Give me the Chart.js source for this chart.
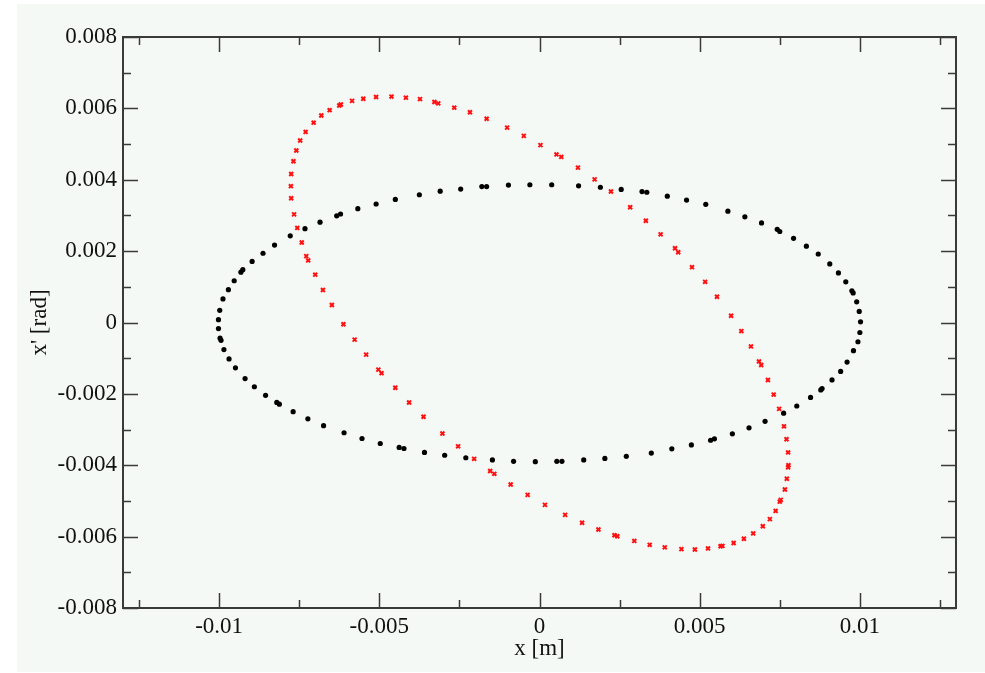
<!DOCTYPE html>
<html>
<head>
<meta charset="utf-8">
<script src="https://cdn.jsdelivr.net/npm/chart.js@4.4.1/dist/chart.umd.min.js"></script>
<style>
  html, body { margin: 0; padding: 0; background: #ffffff; }
  #wrap { position: absolute; left: 0; top: 0; width: 985px; height: 673px; }
</style>
</head>
<body>
<div id="wrap"><canvas id="phaseChart" width="985" height="673"></canvas></div>
<script>
// black ellipse (x [m], x' [rad])
const blackX = [-0.01002, -0.01002, -0.00998, -0.00988, -0.00971, -0.00953, -0.00932, -0.00926, -0.00897, -0.00863,
  -0.00827, -0.00778, -0.00732, -0.00685, -0.00633, -0.00621, -0.00567, -0.00510, -0.00450, -0.00375,
  -0.00310, -0.00246, -0.00180, -0.00165, -0.00097, -0.00030, 0.00038, 0.00122, 0.00190, 0.00255,
  0.00320, 0.00335, 0.00399, 0.00459, 0.00519, 0.00588, 0.00641, 0.00693, 0.00742, 0.00750,
  0.00793, 0.00833, 0.00870, 0.00906, 0.00933, 0.00956, 0.00975, 0.00979, 0.00990, 0.00998,
  0.01002, 0.01000, 0.00994, 0.00980, 0.00960, 0.00940, 0.00913, 0.00882, 0.00878, 0.00846,
  0.00803, 0.00762, 0.00704, 0.00654, 0.00602, 0.00546, 0.00534, 0.00474, 0.00413, 0.00349,
  0.00271, 0.00204, 0.00138, 0.00070, 0.00054, -0.00013, -0.00081, -0.00147, -0.00230, -0.00296,
  -0.00359, -0.00423, -0.00438, -0.00497, -0.00554, -0.00610, -0.00674, -0.00723, -0.00769, -0.00812,
  -0.00820, -0.00855, -0.00890, -0.00919, -0.00949, -0.00969, -0.00985, -0.00994, -0.00997];
const blackY = [-0.00017, 0.00008, 0.00034, 0.00066, 0.00092, 0.00117, 0.00141, 0.00148, 0.00171, 0.00194,
  0.00217, 0.00243, 0.00263, 0.00281, 0.00299, 0.00304, 0.00319, 0.00332, 0.00345, 0.00358,
  0.00368, 0.00374, 0.00381, 0.00381, 0.00385, 0.00386, 0.00386, 0.00383, 0.00379, 0.00373,
  0.00367, 0.00365, 0.00354, 0.00343, 0.00331, 0.00312, 0.00296, 0.00279, 0.00261, 0.00255,
  0.00236, 0.00214, 0.00192, 0.00164, 0.00139, 0.00114, 0.00089, 0.00083, 0.00058, 0.00031,
  0.00002, -0.00028, -0.00054, -0.00079, -0.00111, -0.00137, -0.00161, -0.00185, -0.00189, -0.00210,
  -0.00234, -0.00254, -0.00277, -0.00295, -0.00312, -0.00326, -0.00330, -0.00343, -0.00354, -0.00366,
  -0.00375, -0.00381, -0.00385, -0.00389, -0.00389, -0.00390, -0.00389, -0.00385, -0.00379, -0.00372,
  -0.00364, -0.00353, -0.00350, -0.00339, -0.00325, -0.00309, -0.00289, -0.00270, -0.00250, -0.00229,
  -0.00224, -0.00204, -0.00180, -0.00157, -0.00127, -0.00102, -0.00076, -0.00050, -0.00044];

// red tilted ellipse
const redX = [-0.00373, -0.00417, -0.00462, -0.00510, -0.00550, -0.00585, -0.00620, -0.00625, -0.00655, -0.00681,
  -0.00705, -0.00730, -0.00747, -0.00759, -0.00768, -0.00775, -0.00776, -0.00775, -0.00766, -0.00756,
  -0.00742, -0.00728, -0.00722, -0.00700, -0.00676, -0.00648, -0.00612, -0.00577, -0.00541, -0.00503,
  -0.00493, -0.00450, -0.00407, -0.00362, -0.00303, -0.00254, -0.00204, -0.00154, -0.00141, -0.00090,
  -0.00037, 0.00017, 0.00080, 0.00133, 0.00184, 0.00234, 0.00243, 0.00296, 0.00344, 0.00391,
  0.00443, 0.00485, 0.00526, 0.00565, 0.00571, 0.00606, 0.00638, 0.00667, 0.00697, 0.00719,
  0.00737, 0.00750, 0.00753, 0.00766, 0.00772, 0.00776, 0.00777, 0.00776, 0.00771, 0.00763,
  0.00748, 0.00731, 0.00713, 0.00692, 0.00685, 0.00660, 0.00630, 0.00598, 0.00554, 0.00517,
  0.00476, 0.00433, 0.00423, 0.00378, 0.00332, 0.00283, 0.00223, 0.00172, 0.00120, 0.00068,
  0.00053, 0.00003, -0.00049, -0.00101, -0.00165, -0.00217, -0.00266, -0.00316, -0.00328];
const redY = [0.00626, 0.00630, 0.00633, 0.00632, 0.00627, 0.00621, 0.00611, 0.00608, 0.00595, 0.00580,
  0.00560, 0.00534, 0.00510, 0.00482, 0.00452, 0.00416, 0.00382, 0.00348, 0.00303, 0.00265,
  0.00224, 0.00186, 0.00174, 0.00134, 0.00091, 0.00049, -0.00005, -0.00048, -0.00090, -0.00132,
  -0.00142, -0.00183, -0.00224, -0.00264, -0.00311, -0.00347, -0.00382, -0.00416, -0.00424, -0.00454,
  -0.00483, -0.00511, -0.00539, -0.00561, -0.00580, -0.00596, -0.00599, -0.00612, -0.00623, -0.00630,
  -0.00635, -0.00636, -0.00633, -0.00627, -0.00626, -0.00618, -0.00606, -0.00591, -0.00571, -0.00551,
  -0.00528, -0.00502, -0.00497, -0.00468, -0.00438, -0.00406, -0.00400, -0.00364, -0.00327, -0.00291,
  -0.00242, -0.00202, -0.00161, -0.00119, -0.00109, -0.00067, -0.00024, 0.00019, 0.00072, 0.00114,
  0.00155, 0.00197, 0.00208, 0.00247, 0.00285, 0.00323, 0.00367, 0.00401, 0.00434, 0.00464,
  0.00471, 0.00497, 0.00523, 0.00546, 0.00571, 0.00589, 0.00602, 0.00614, 0.00618];

// axis ticks
const xTickValues = [-0.01, -0.005, 0, 0.005, 0.01];
const xTickLabels = ['-0.01', '-0.005', '0', '0.005', '0.01'];
const xMinorTicks = [-0.0125, -0.0075, -0.0025, 0.0025, 0.0075, 0.0125];
const yTickValues = [-0.008, -0.006, -0.004, -0.002, 0, 0.002, 0.004, 0.006, 0.008];
const yTickLabels = ['-0.008', '-0.006', '-0.004', '-0.002', '0', '0.002', '0.004', '0.006', '0.008'];
const yMinorTicks = [-0.007, -0.005, -0.003, -0.001, 0.001, 0.003, 0.005, 0.007];

const toPoints = (xs, ys) => xs.map((x, i) => ({ x: x, y: ys[i] }));
const serif = "'Liberation Serif', 'Times New Roman', serif";

// background panel + frame with inward ticks on all four sides
const framePlugin = {
  id: 'frame',
  beforeDraw(chart) {
    const c = chart.ctx;
    c.save();
    c.fillStyle = '#ffffff';
    c.fillRect(0, 0, chart.width, chart.height);
    c.fillStyle = '#f5f9f6';
    c.fillRect(17, 4, chart.width - 17, chart.height - 5);
    c.restore();
  },
  beforeDatasetsDraw(chart) {
    const c = chart.ctx;
    const a = chart.chartArea;
    const xs = chart.scales.x, ys = chart.scales.y;
    c.save();
    c.strokeStyle = '#3a3a3a';
    c.lineWidth = 2;
    c.strokeRect(a.left, a.top, a.right - a.left, a.bottom - a.top);
    c.lineWidth = 1.5;
    const tick = (x1, y1, x2, y2) => { c.beginPath(); c.moveTo(x1, y1); c.lineTo(x2, y2); c.stroke(); };
    xTickValues.forEach(v => {
      const px = Math.round(xs.getPixelForValue(v)) + 0.5;
      tick(px, a.bottom, px, a.bottom - 15);
      tick(px, a.top, px, a.top + 15);
    });
    xMinorTicks.forEach(v => {
      const px = Math.round(xs.getPixelForValue(v)) + 0.5;
      tick(px, a.bottom, px, a.bottom - 8);
      tick(px, a.top, px, a.top + 8);
    });
    yTickValues.forEach(v => {
      const py = Math.round(ys.getPixelForValue(v)) + 0.5;
      tick(a.left, py, a.left + 15, py);
      tick(a.right, py, a.right - 15, py);
    });
    yMinorTicks.forEach(v => {
      const py = Math.round(ys.getPixelForValue(v)) + 0.5;
      tick(a.left, py, a.left + 8, py);
      tick(a.right, py, a.right - 8, py);
    });
    c.restore();
  }
};

new Chart(document.getElementById('phaseChart').getContext('2d'), {
  type: 'scatter',
  data: {
    datasets: [{
      label: 'x0',
      data: toPoints(blackX, blackY),
      pointStyle: 'circle',
      pointRadius: 2.6,
      backgroundColor: '#000000',
      borderColor: '#000000',
      borderWidth: 0
    }, {
      label: 'x1',
      data: toPoints(redX, redY),
      pointStyle: 'crossRot',
      pointRadius: 2.8,
      borderColor: '#ff1010',
      backgroundColor: '#ff1010',
      borderWidth: 2
    }]
  },
  options: {
    responsive: false,
    animation: false,
    layout: { padding: { left: 0, top: 37, right: 29, bottom: 0 } },
    plugins: { legend: { display: false }, tooltip: { enabled: false } },
    scales: {
      x: {
        type: 'linear',
        min: -0.013,
        max: 0.013,
        grid: { display: false, drawTicks: false },
        border: { display: false },
        afterBuildTicks: s => { s.ticks = xTickValues.map(v => ({ value: v })); },
        afterFit: s => { s.height = 65; },
        ticks: {
          padding: 5,
          color: '#111111',
          font: { family: serif, size: 23 },
          callback: (v) => xTickLabels[xTickValues.indexOf(v)]
        },
        title: {
          display: true,
          text: 'x [m]',
          color: '#111111',
          font: { family: serif, size: 23 },
          padding: { top: 0, bottom: 10 }
        }
      },
      y: {
        type: 'linear',
        min: -0.008,
        max: 0.008,
        grid: { display: false, drawTicks: false },
        border: { display: false },
        afterBuildTicks: s => { s.ticks = yTickValues.map(v => ({ value: v })); },
        afterFit: s => { s.width = 123; },
        ticks: {
          padding: 6,
          color: '#111111',
          font: { family: serif, size: 23 },
          callback: (v) => yTickLabels[yTickValues.indexOf(v)]
        },
        title: {
          display: true,
          text: "x' [rad]",
          color: '#111111',
          font: { family: serif, size: 23 },
          padding: { top: 26, bottom: 0 }
        }
      }
    }
  },
  plugins: [framePlugin]
});
</script>
</body>
</html>
